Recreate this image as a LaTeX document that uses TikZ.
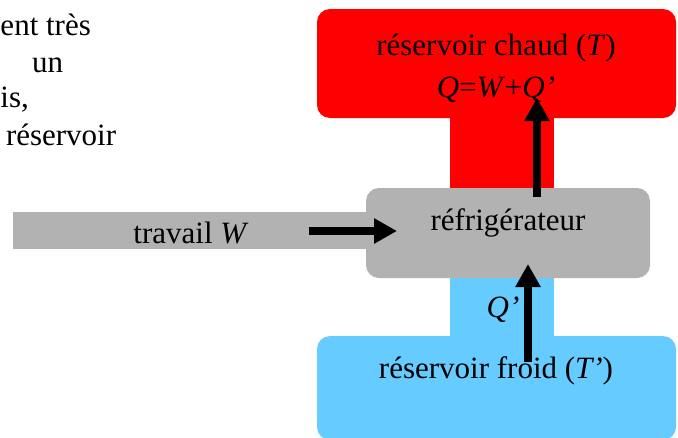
\documentclass[tikz,border=0pt]{standalone}
\usepackage{fontspec}
\setmainfont{Liberation Serif}
\usetikzlibrary{arrows.meta}
\definecolor{hot}{HTML}{FF0000}
\definecolor{cold}{HTML}{66CCFF}
\definecolor{machine}{HTML}{B2B2B2}
\tikzset{
  blockshape/.style={draw=none, inner sep=0pt, outer sep=0pt, rounded corners=13pt},
  stemshape/.style={draw=none, inner sep=0pt, outer sep=0pt},
  lbl/.style={inner sep=0pt, outer sep=0pt, anchor=base, font=\fontsize{31}{37}\selectfont},
  pagetext/.style={inner sep=0pt, outer sep=0pt, anchor=base west, font=\fontsize{31}{37}\selectfont},
  flow/.style={line width=7.5pt, -{Triangle[length=23pt, width=24pt]}}
}
\begin{document}
\begin{tikzpicture}[x=1pt, y=-1pt]
\useasboundingbox (0,0) rectangle (678,437);
% stems
\node[stemshape, fill=hot, minimum width=104pt, minimum height=85pt] (hotstem) at (502,152.5) {};
\node[stemshape, fill=cold, minimum width=104pt, minimum height=72pt] (coldstem) at (502,306) {};
% reservoirs
\node[blockshape, fill=hot, minimum width=359pt, minimum height=109pt] (hotbox) at (496.5,63.5) {};
\node[blockshape, fill=cold, minimum width=359pt, minimum height=104pt] (coldbox) at (496.5,388) {};
% work bar and machine
\node[stemshape, fill=machine, minimum width=357pt, minimum height=37pt] (workbar) at (191.5,230.5) {};
\node[blockshape, fill=machine, minimum width=284pt, minimum height=90pt] (fridge) at (508,233) {};
% labels
\node[lbl] (hottxt) at (496,55) {réservoir chaud (\textit{T})};
\node[lbl] (qtxt) at (496,97) {\textit{Q}=\textit{W}+\textit{Q’}};
\node[lbl] (fridgetxt) at (508,230) {réfrigérateur};
\node[lbl] (worktxt) at (191,243) {travail \textit{W}};
\node[lbl] (qptxt) at (503,317) {\textit{Q’}};
\node[lbl] (coldtxt) at (496,378) {réservoir froid (\textit{T’})};
% page text (cut off)
\node[pagetext] (line1) at (0.5,35) {ent très};
\node[pagetext] (line2) at (32,72) {un};
\node[pagetext] (line3) at (0.5,107) {is,};
\node[pagetext] (line4) at (6,145) {réservoir};
% arrows
\coordinate (wstart) at (309,231);
\coordinate (wend) at (397,231);
\coordinate (hstart) at (537,197);
\coordinate (hend) at (537,98);
\coordinate (cstart) at (528,362);
\coordinate (cend) at (528,264);
\draw[flow] (wstart) -- (wend);
\draw[flow] (hstart) -- (hend);
\draw[flow] (cstart) -- (cend);
\end{tikzpicture}
\end{document}
